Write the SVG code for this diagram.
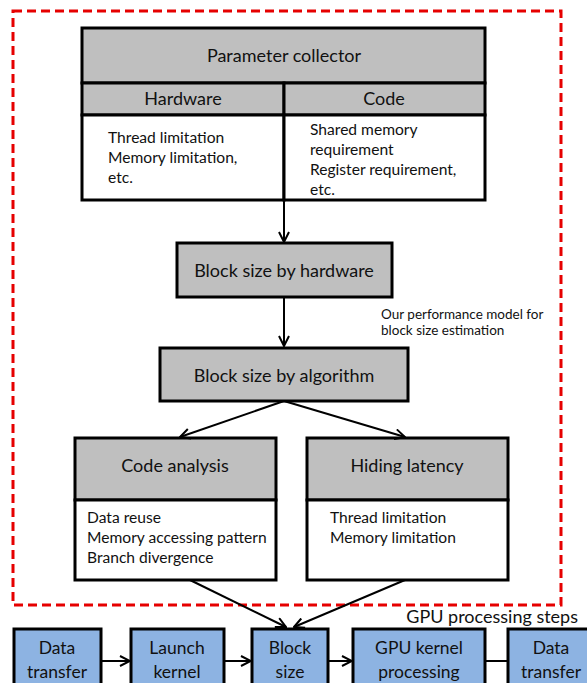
<svg xmlns="http://www.w3.org/2000/svg" width="587" height="683" viewBox="0 0 587 683">
  <defs>
    <marker id="arr" viewBox="0 0 12 12" refX="11" refY="6" markerWidth="12" markerHeight="12" markerUnits="userSpaceOnUse" orient="auto">
      <path d="M1,1 L11,6 L1,11" fill="none" stroke="#000" stroke-width="2"/>
    </marker>
  </defs>
  <style>
    text { font-family: Lato, "Open Sans", "Liberation Sans", sans-serif; fill: #111; }
    .box { fill: #bfbfbf; stroke: #000; stroke-width: 3; }
    .body { fill: #fff; stroke: #000; stroke-width: 3; }
    .blue { fill: #8db3e2; stroke: #000; stroke-width: 3; }
    .t { font-size: 18px; text-anchor: middle; }
    .b { font-size: 15.6px; }
    .s { font-size: 13.5px; }
    .bt { font-size: 17.5px; text-anchor: middle; }
    .edge { fill: none; stroke: #000; stroke-width: 2; marker-end: url(#arr); }
  </style>

  <!-- performance model boundary -->
  <rect x="13" y="11" width="548" height="594" fill="none" stroke="#e60000" stroke-width="3" stroke-dasharray="9,5"/>

  <g id="parameter-collector">
    <rect class="box" x="82" y="28" width="403" height="55"/>
    <rect class="box" x="82" y="83" width="202" height="32"/>
    <rect class="box" x="284" y="83" width="201" height="32"/>
    <rect class="body" x="82" y="115" width="202" height="85"/>
    <rect class="body" x="284" y="115" width="201" height="85"/>
    <text class="t" x="284" y="62">Parameter collector</text>
    <text class="t" x="183" y="105">Hardware</text>
    <text class="t" x="384" y="105">Code</text>
    <text class="b" x="108" y="143">Thread limitation</text>
    <text class="b" x="108" y="163">Memory limitation,</text>
    <text class="b" x="108" y="183">etc.</text>
    <text class="b" x="310" y="135">Shared memory</text>
    <text class="b" x="310" y="155">requirement</text>
    <text class="b" x="310" y="175">Register requirement,</text>
    <text class="b" x="310" y="195">etc.</text>
  </g>

  <g id="block-size-hardware">
    <rect class="box" x="177" y="243" width="215" height="54"/>
    <text class="t" x="284" y="277">Block size by hardware</text>
  </g>

  <g id="model-note">
    <text class="s" x="381" y="319">Our performance model for</text>
    <text class="s" x="381" y="335">block size estimation</text>
  </g>

  <g id="block-size-algorithm">
    <rect class="box" x="160" y="348" width="248" height="53"/>
    <text class="t" x="284" y="382">Block size by algorithm</text>
  </g>

  <g id="code-analysis">
    <rect class="box" x="75" y="438" width="201" height="62"/>
    <rect class="body" x="75" y="500" width="201" height="80"/>
    <text class="t" x="175" y="472">Code analysis</text>
    <text class="b" x="87" y="523">Data reuse</text>
    <text class="b" x="87" y="543">Memory accessing pattern</text>
    <text class="b" x="87" y="563">Branch divergence</text>
  </g>

  <g id="hiding-latency">
    <rect class="box" x="307" y="438" width="201" height="62"/>
    <rect class="body" x="307" y="500" width="201" height="80"/>
    <text class="t" x="407" y="472">Hiding latency</text>
    <text class="b" x="330" y="523">Thread limitation</text>
    <text class="b" x="330" y="543">Memory limitation</text>
  </g>

  <text x="578" y="623" font-size="18" text-anchor="end">GPU processing steps</text>

  <g id="step-data-transfer-in">
    <rect class="blue" x="14" y="629" width="87" height="64"/>
    <text class="bt" x="57" y="654">Data</text>
    <text class="bt" x="57" y="678">transfer</text>
  </g>
  <g id="step-launch-kernel">
    <rect class="blue" x="131" y="629" width="93" height="64"/>
    <text class="bt" x="177" y="654">Launch</text>
    <text class="bt" x="177" y="678">kernel</text>
  </g>
  <g id="step-block-size">
    <rect class="blue" x="252" y="629" width="76" height="64"/>
    <text class="bt" x="290" y="654">Block</text>
    <text class="bt" x="290" y="678">size</text>
  </g>
  <g id="step-gpu-kernel">
    <rect class="blue" x="353" y="629" width="132" height="64"/>
    <text class="bt" x="419" y="654">GPU kernel</text>
    <text class="bt" x="419" y="678">processing</text>
  </g>
  <g id="step-data-transfer-out">
    <rect class="blue" x="508" y="629" width="85" height="64"/>
    <text class="bt" x="551" y="654">Data</text>
    <text class="bt" x="551" y="678">transfer</text>
  </g>

  <g id="connectors">
    <line class="edge" x1="284" y1="200" x2="284" y2="242"/>
    <line class="edge" x1="284" y1="297" x2="284" y2="346"/>
    <line class="edge" x1="284" y1="401" x2="180" y2="437"/>
    <line class="edge" x1="284" y1="401" x2="405" y2="437"/>
    <line class="edge" x1="190" y1="580" x2="286" y2="627"/>
    <line class="edge" x1="405" y1="580" x2="294" y2="627"/>
    <line class="edge" x1="101" y1="661" x2="130" y2="661"/>
    <line class="edge" x1="224" y1="661" x2="251" y2="661"/>
    <line class="edge" x1="328" y1="661" x2="352" y2="661"/>
    <line x1="485" y1="661" x2="508" y2="661" stroke="#000" stroke-width="2"/>
  </g>
</svg>
